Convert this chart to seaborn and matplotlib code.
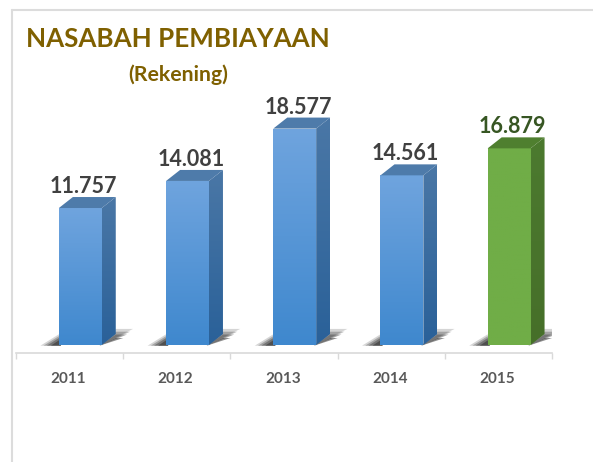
import numpy as np
import seaborn as sns
import matplotlib
matplotlib.use('Agg')
import matplotlib.pyplot as plt
from matplotlib.colors import to_rgb
from matplotlib.lines import Line2D
from matplotlib.patches import Polygon

# data
years = ['2011', '2012', '2013', '2014', '2015']
values = [11757, 14081, 18577, 14561, 16879]
front_top = ['#6FA4DE', '#6FA4DE', '#6FA4DE', '#6FA4DE', '#70AD47']
front_bottom = ['#3F88CE', '#3F88CE', '#3F88CE', '#3F88CE', '#70AD47']
side_top = ['#4A77A6', '#4A77A6', '#4A77A6', '#4A77A6', '#4C7A2F']
side_bottom = ['#2A6199', '#2A6199', '#2A6199', '#2A6199', '#466F29']
cap_color = ['#4E7BAA', '#4E7BAA', '#4E7BAA', '#4E7BAA', '#4F7F2F']
label_color = ['#404040', '#404040', '#404040', '#404040', '#375623']

W, H = 593, 462
sns.set_style('white')
plt.rcParams['font.family'] = ['Lato', 'DejaVu Sans']

fig = plt.figure(figsize=(W / 100, H / 100), dpi=100)
ax = fig.add_axes([16 / W, (H - 353) / H, (552 - 16) / W, (353 - 100) / H])

sns.barplot(x=years, y=values, hue=years, palette=front_bottom, width=0.4,
            legend=False, saturation=1, ax=ax)

xlim = (-0.6, 4.4)
ylim = (-687, 21030)
ax.set_xlim(xlim)
ax.set_ylim(ylim)

# depth of the fake 3d box, in data units
dx = 14 / 107.2
dy = 11 / 0.01165


def gradient_poly(verts, top, bottom, z):
    c = np.linspace(to_rgb(top), to_rgb(bottom), 64).reshape(64, 1, 3)
    xs = [v[0] for v in verts]
    ys = [v[1] for v in verts]
    im = ax.imshow(c, extent=(min(xs), max(xs), min(ys), max(ys)), origin='upper',
                   aspect='auto', zorder=z, interpolation='bilinear')
    im.set_clip_path(Polygon(verts, transform=ax.transData))


bars = list(ax.patches)
for i, bar in enumerate(bars):
    x0 = bar.get_x()
    x1 = x0 + bar.get_width()
    top = bar.get_height()

    # ground shadow, a few stacked layers to look soft
    for grow, a in zip([1.15, 0.95, 0.75, 0.5], [0.2, 0.3, 0.4, 0.55]):
        ax.add_patch(Polygon([(x0 - 0.15 * grow, -60), (x0, 800 * grow), (x0 + 0.02, -60)],
                             closed=True, fc='#303030', ec='none', alpha=a, zorder=2))
        ax.add_patch(Polygon([(x1 - 0.02, -60), (x1 + dx, 1200 * grow), (x1 + dx + 0.14 * grow, 1200 * grow)],
                             closed=True, fc='#303030', ec='none', alpha=a, zorder=2))

    gradient_poly([(x0, 0), (x1, 0), (x1, top), (x0, top)], front_top[i], front_bottom[i], 4)
    gradient_poly([(x1, 0), (x1 + dx, dy), (x1 + dx, top + dy), (x1, top)],
                  side_top[i], side_bottom[i], 4)
    ax.add_patch(Polygon([(x0, top), (x0 + dx, top + dy), (x1 + dx, top + dy), (x1, top)],
                         closed=True, fc=cap_color[i], ec='none', zorder=5))

    ax.annotate(f'{values[i]:,}'.replace(',', '.'),
                xy=(i + 0.03, top + dy), xytext=(0, 0), textcoords='offset points',
                ha='center', va='bottom', fontsize=15.5, fontweight='bold',
                color=label_color[i], annotation_clip=False, zorder=6)

ax.set_xlim(xlim)
ax.set_ylim(ylim)

# axis
sns.despine(ax=ax, left=True, top=True, right=True)
ax.spines['bottom'].set_color('#d9d9d9')
ax.spines['bottom'].set_linewidth(1.2)
ax.set_yticks([])
ax.set_xticks(np.arange(len(years)) - 0.11, years)
ax.set_xticks(np.arange(len(years) + 1) - 0.6, minor=True)
ax.tick_params(axis='x', which='major', length=0, pad=14, labelsize=11, labelcolor='#595959')
ax.tick_params(axis='x', which='minor', bottom=True, length=4, width=1, color='#d9d9d9')
for t in ax.get_xticklabels():
    t.set_fontweight('bold')
ax.patch.set_alpha(0)

# picture frame
fig.add_artist(Line2D([12 / W, 12 / W], [0, 1 - 10 / H], color='#dcdcdc', lw=1.5))
fig.add_artist(Line2D([12 / W, 1], [1 - 10 / H, 1 - 10 / H], color='#dcdcdc', lw=1.5))

# titles
fig.text(26 / W, 1 - 39 / H, 'NASABAH PEMBIAYAAN', ha='left', va='center',
         fontsize=18.7, fontweight='bold', color='#7F6000')
fig.text(178 / W, 1 - 75 / H, '(Rekening)', ha='center', va='center',
         fontsize=15.3, fontweight='bold', color='#7F6000')

fig.savefig('out.png', dpi=100)
